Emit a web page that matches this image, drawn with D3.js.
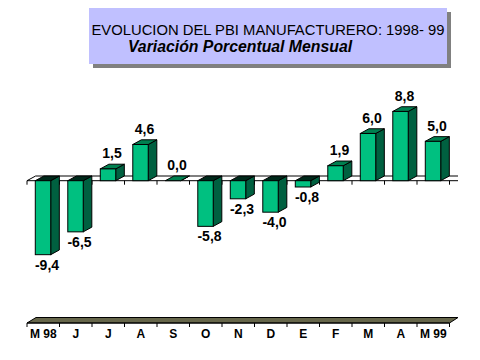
<!DOCTYPE html>
<html><head><meta charset="utf-8">
<script src="https://cdn.jsdelivr.net/npm/d3@7"></script>
<style>html,body{margin:0;padding:0;background:#fff;}svg{display:block;}</style>
</head><body>
<script>
const categories = ["M 98","J","J","A","S","O","N","D","E","F","M","A","M 99"];
const values = [-9.4,-6.5,1.5,4.6,0.0,-5.8,-2.3,-4.0,-0.8,1.9,6.0,8.8,5.0];
const valueLabels = ["-9,4","-6,5","1,5","4,6","0,0","-5,8","-2,3","-4,0","-0,8","1,9","6,0","8,8","5,0"];
const titleText = "EVOLUCION DEL PBI MANUFACTURERO: 1998- 99";
const subtitleText = "Variación Porcentual Mensual";

const W = 480, H = 360;
const svg = d3.select("body").append("svg").attr("width", W).attr("height", H);
const font = "'Liberation Sans', Arial, sans-serif";

// Title box
svg.append("rect").attr("x", 93).attr("y", 12).attr("width", 358).attr("height", 56).attr("fill", "#808080");
svg.append("rect").attr("x", 89).attr("y", 8).attr("width", 358).attr("height", 56).attr("fill", "#C0C0FF");
svg.append("text").attr("x", 268).attr("y", 35).attr("text-anchor", "middle")
  .attr("font-family", font).attr("font-size", 14.8).attr("fill", "#000").text(titleText);
svg.append("text").attr("x", 240).attr("y", 52).attr("text-anchor", "middle")
  .attr("font-family", font).attr("font-size", 15.8).attr("font-style", "italic").attr("font-weight", "bold")
  .attr("fill", "#000").text(subtitleText);

// Scales
const x = d3.scaleBand().domain(d3.range(categories.length)).range([27, 449.5]).padding(0);
const y = d3.scaleLinear().domain([-10, 10]).range([259.4, 102]);
const bw = x.bandwidth();
const off = bw * 0.255, fw = bw * 0.475;
const dx = 8.6, dy = 4.7;
const y0 = y(0);

// Floor (zero plane)
const floor = svg.append("g");
floor.append("path").attr("d", `M27,${y0}L${27+dx},${y0-dy}L458,${y0-dy}`)
  .attr("fill", "none").attr("stroke", "#000").attr("stroke-width", 1);
floor.append("line").attr("x1", 27).attr("x2", 458).attr("y1", y0).attr("y2", y0)
  .attr("stroke", "#000").attr("stroke-width", 1);
floor.selectAll("line.tk").data(d3.range(categories.length + 1)).join("line").attr("class", "tk")
  .attr("x1", i => 27 + i * bw).attr("x2", i => 27 + i * bw)
  .attr("y1", y0).attr("y2", y0 + 4).attr("stroke", "#000");

// Bars
const bars = svg.append("g").selectAll("g").data(values).join("g");
bars.each(function(v, i) {
  const g = d3.select(this);
  const x0 = x(i) + off;
  const top = y(Math.max(v, 0)), bot = y(Math.min(v, 0));
  g.append("path")
    .attr("d", `M${x0+fw},${top}L${x0+fw+dx},${top-dy}L${x0+fw+dx},${bot-dy}L${x0+fw},${bot}Z`)
    .attr("fill", "#006040").attr("stroke", "#000").attr("stroke-width", 1);
  g.append("path")
    .attr("d", `M${x0},${top}L${x0+dx},${top-dy}L${x0+fw+dx},${top-dy}L${x0+fw},${top}Z`)
    .attr("fill", v < 0 ? "#00281a" : "#008050").attr("stroke", "#000").attr("stroke-width", 1);
  g.append("rect").attr("x", x0).attr("y", top).attr("width", fw).attr("height", Math.max(bot - top, 0))
    .attr("fill", "#00C080").attr("stroke", "#000").attr("stroke-width", 1);
  const lx = x0 + fw / 2 + 4;
  const ly = v >= 0 ? top - dy - 6 : bot + 15;
  g.append("text").attr("x", lx).attr("y", ly).attr("text-anchor", "middle")
    .attr("font-family", font).attr("font-size", 14).attr("font-weight", "bold")
    .attr("fill", "#000").text(valueLabels[i]);
});

// Bottom category axis (3D strip)
const by = 323;
svg.append("path").attr("d", `M27,${by}L36,${by-5.5}L458,${by-5.5}L449.5,${by}Z`)
  .attr("fill", "#66664A").attr("stroke", "#000").attr("stroke-width", 1);
svg.append("line").attr("x1", 27).attr("x2", 449.5).attr("y1", by).attr("y2", by).attr("stroke", "#000");
svg.append("g").selectAll("line").data(d3.range(categories.length + 1)).join("line")
  .attr("x1", i => 27 + i * bw).attr("x2", i => 27 + i * bw)
  .attr("y1", by).attr("y2", by + 4).attr("stroke", "#000");
svg.append("g").selectAll("text").data(categories).join("text")
  .attr("x", (d, i) => x(i) + bw / 2).attr("y", 338)
  .attr("text-anchor", "middle").attr("font-family", font).attr("font-size", 12)
  .attr("font-weight", "bold").attr("fill", "#000").text(d => d);
</script>
</body></html>
